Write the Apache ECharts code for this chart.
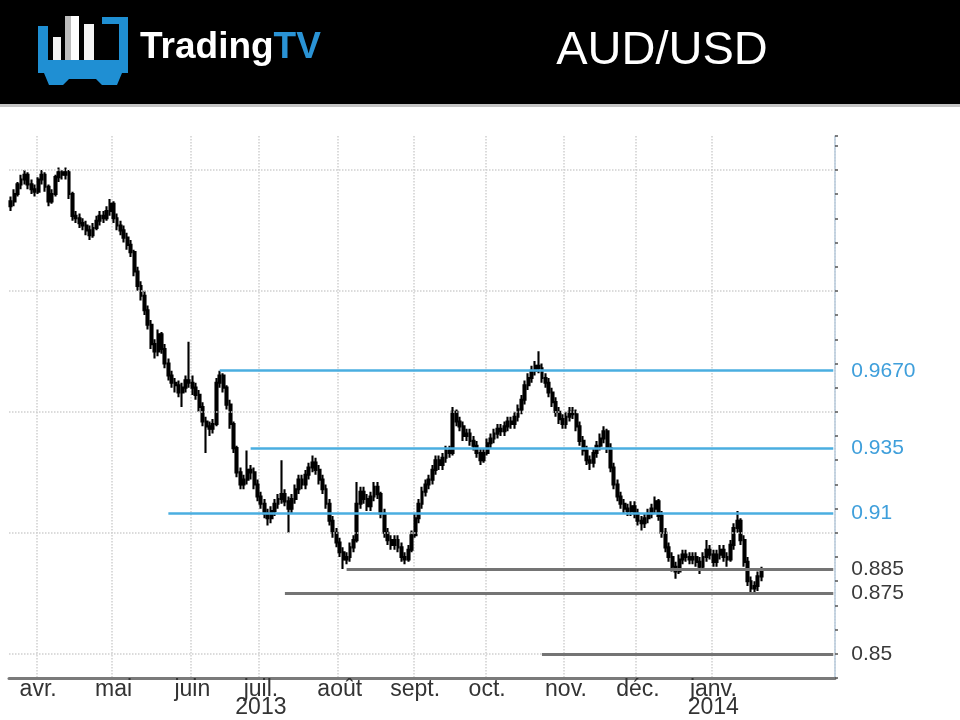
<!DOCTYPE html>
<html><head><meta charset="utf-8">
<script src="https://cdn.jsdelivr.net/npm/echarts@6/dist/echarts.min.js"></script>
<style>html,body{margin:0;padding:0;background:#fff}#c{width:960px;height:720px}</style>
</head><body><div id="c"></div>
<script>
// calendar range of the category axis (trading days)
const startDate = '2013-03-20';
const endDate = '2014-02-19';
// month ticks
const tickMonths = ['2013-04','2013-05','2013-06','2013-07','2013-08','2013-09','2013-10','2013-11','2013-12','2014-01'];
const tickLabels = ['avr.','mai','juin','juil.\n2013','août','sept.','oct.','nov.','déc.','janv.\n2014'];
// horizontal dotted grid levels
const gridValues = [0.85, 0.90, 0.95, 1.00, 1.05];
// annotated levels
const levelValues = [0.967, 0.935, 0.908, 0.885, 0.875, 0.85];
const levelLabels = ['0.9670', '0.935', '0.91', '0.885', '0.875', '0.85'];
const levelStarts = ['2013-06-13', '2013-06-26', '2013-05-23', '2013-08-05', '2013-07-10', '2013-10-23'];
const levelKinds = ['blue', 'blue', 'blue', 'gray', 'gray', 'gray'];

// daily candles: [open, close, low, high]
const candlesMar13 = [
[1.035,1.037,1.033,1.039],[1.037,1.040,1.035,1.042],[1.040,1.044,1.039,1.045],[1.044,1.046,1.042,1.048],
[1.046,1.048,1.044,1.050],[1.048,1.044,1.042,1.049],[1.044,1.042,1.040,1.046],[1.042,1.041,1.039,1.044]];
const candlesApr13 = [
[1.041,1.046,1.040,1.047],[1.046,1.048,1.044,1.050],[1.048,1.043,1.041,1.049],[1.043,1.037,1.035,1.044],
[1.037,1.040,1.036,1.042],[1.040,1.047,1.039,1.048],[1.047,1.049,1.045,1.051],[1.049,1.048,1.046,1.050],
[1.048,1.049,1.046,1.051],[1.049,1.040,1.038,1.050],[1.040,1.031,1.029,1.041],[1.031,1.030,1.028,1.033],
[1.030,1.028,1.026,1.032],[1.028,1.027,1.025,1.030],[1.027,1.025,1.023,1.029],[1.025,1.023,1.021,1.027],
[1.023,1.026,1.022,1.028],[1.026,1.029,1.025,1.031],[1.029,1.031,1.027,1.033],[1.031,1.030,1.028,1.033],
[1.030,1.033,1.029,1.035],[1.033,1.036,1.031,1.038]];
const candlesMay13 = [
[1.036,1.030,1.028,1.037],[1.030,1.027,1.025,1.032],[1.027,1.025,1.023,1.029],[1.025,1.022,1.020,1.027],
[1.022,1.019,1.017,1.024],[1.019,1.016,1.014,1.021],[1.016,1.008,1.006,1.017],[1.008,1.002,1.000,1.010],
[1.002,0.998,0.996,1.004],[0.998,0.992,0.990,1.000],[0.992,0.986,0.984,0.994],[0.986,0.978,0.976,0.988],
[0.978,0.975,0.972,0.980],[0.975,0.982,0.973,0.984],[0.982,0.976,0.974,0.983],[0.976,0.970,0.968,0.978],
[0.970,0.965,0.963,0.972],[0.965,0.962,0.960,0.967],[0.962,0.961,0.958,0.964],[0.961,0.958,0.956,0.963],
[0.958,0.960,0.952,0.962],[0.960,0.963,0.958,0.965],[0.963,0.962,0.960,0.979]];
const candlesJun13 = [
[0.962,0.960,0.957,0.965],[0.960,0.957,0.955,0.962],[0.957,0.952,0.950,0.959],[0.952,0.946,0.944,0.954],
[0.946,0.944,0.933,0.948],[0.944,0.943,0.940,0.946],[0.943,0.945,0.941,0.947],[0.945,0.962,0.944,0.964],
[0.962,0.965,0.960,0.967],[0.965,0.960,0.958,0.966],[0.960,0.953,0.951,0.961],[0.953,0.945,0.943,0.955],
[0.945,0.935,0.933,0.946],[0.935,0.925,0.923,0.936],[0.925,0.920,0.918,0.927],[0.920,0.922,0.918,0.924],
[0.922,0.926,0.920,0.934],[0.926,0.925,0.922,0.928],[0.925,0.920,0.918,0.927],[0.920,0.915,0.913,0.922]];
const candlesJul13 = [
[0.915,0.912,0.910,0.917],[0.912,0.908,0.906,0.914],[0.908,0.906,0.903,0.910],[0.906,0.909,0.904,0.911],
[0.909,0.912,0.907,0.914],[0.912,0.914,0.910,0.916],[0.914,0.916,0.912,0.930],[0.916,0.913,0.911,0.918],
[0.913,0.910,0.900,0.915],[0.910,0.914,0.908,0.916],[0.914,0.918,0.912,0.920],[0.918,0.922,0.916,0.924],
[0.922,0.920,0.918,0.924],[0.920,0.924,0.918,0.926],[0.924,0.927,0.922,0.929],[0.927,0.929,0.925,0.932],
[0.929,0.926,0.924,0.931],[0.926,0.922,0.920,0.928],[0.922,0.918,0.916,0.924],[0.918,0.912,0.910,0.920],
[0.912,0.905,0.903,0.914],[0.905,0.900,0.898,0.907],[0.900,0.896,0.894,0.902]];
const candlesAug13 = [
[0.896,0.892,0.890,0.898],[0.892,0.889,0.885,0.894],[0.889,0.890,0.887,0.892],[0.890,0.894,0.888,0.896],
[0.894,0.897,0.892,0.899],[0.897,0.912,0.896,0.921],[0.912,0.917,0.910,0.919],[0.917,0.914,0.912,0.919],
[0.914,0.911,0.909,0.916],[0.911,0.915,0.909,0.917],[0.915,0.919,0.913,0.921],[0.919,0.916,0.914,0.921],
[0.916,0.908,0.906,0.917],[0.908,0.900,0.898,0.910],[0.900,0.897,0.895,0.902],[0.897,0.895,0.893,0.899],
[0.895,0.897,0.893,0.899],[0.897,0.894,0.892,0.899],[0.894,0.890,0.888,0.896],[0.890,0.889,0.887,0.892],
[0.889,0.893,0.888,0.895],[0.893,0.899,0.892,0.901]];
const candlesSep13 = [
[0.899,0.906,0.898,0.908],[0.906,0.912,0.904,0.914],[0.912,0.917,0.910,0.919],[0.917,0.920,0.915,0.922],
[0.920,0.922,0.918,0.924],[0.922,0.926,0.920,0.928],[0.926,0.930,0.924,0.932],[0.930,0.928,0.926,0.932],
[0.928,0.931,0.926,0.933],[0.931,0.934,0.929,0.936],[0.934,0.933,0.931,0.936],[0.933,0.950,0.932,0.952],
[0.950,0.946,0.944,0.951],[0.946,0.944,0.942,0.948],[0.944,0.940,0.938,0.946],[0.940,0.941,0.938,0.943],
[0.941,0.938,0.936,0.943],[0.938,0.936,0.934,0.940],[0.936,0.933,0.931,0.938],[0.933,0.930,0.928,0.935],
[0.930,0.933,0.929,0.935]];
const candlesOct13 = [
[0.933,0.937,0.932,0.939],[0.937,0.939,0.935,0.941],[0.939,0.941,0.937,0.943],[0.941,0.943,0.939,0.945],
[0.943,0.942,0.940,0.945],[0.942,0.944,0.940,0.946],[0.944,0.946,0.942,0.948],[0.946,0.945,0.943,0.948],
[0.945,0.948,0.943,0.950],[0.948,0.951,0.946,0.953],[0.951,0.955,0.949,0.957],[0.955,0.961,0.953,0.963],
[0.961,0.964,0.959,0.966],[0.964,0.967,0.962,0.969],[0.967,0.969,0.965,0.971],[0.969,0.968,0.966,0.975],
[0.968,0.964,0.962,0.970],[0.964,0.962,0.960,0.966],[0.962,0.958,0.956,0.964],[0.958,0.954,0.952,0.960],
[0.954,0.950,0.948,0.956],[0.950,0.947,0.945,0.952],[0.947,0.945,0.943,0.949]];
const candlesNov13 = [
[0.945,0.948,0.943,0.950],[0.948,0.950,0.946,0.952],[0.950,0.949,0.947,0.952],[0.949,0.944,0.942,0.951],
[0.944,0.938,0.936,0.946],[0.938,0.934,0.932,0.940],[0.934,0.930,0.928,0.936],[0.930,0.929,0.926,0.932],
[0.929,0.933,0.927,0.935],[0.933,0.936,0.931,0.938],[0.936,0.939,0.934,0.941],[0.939,0.942,0.937,0.944],
[0.942,0.935,0.933,0.943],[0.935,0.927,0.925,0.937],[0.927,0.920,0.918,0.929],[0.920,0.915,0.913,0.922],
[0.915,0.912,0.910,0.917],[0.912,0.910,0.908,0.914],[0.910,0.909,0.907,0.912],[0.909,0.911,0.907,0.913],
[0.911,0.908,0.906,0.913]];
const candlesDec13 = [
[0.908,0.905,0.903,0.910],[0.905,0.904,0.901,0.907],[0.904,0.906,0.902,0.908],[0.906,0.908,0.904,0.910],
[0.908,0.910,0.906,0.912],[0.910,0.913,0.908,0.915],[0.913,0.907,0.905,0.914],[0.907,0.900,0.898,0.909],
[0.900,0.894,0.892,0.902],[0.894,0.890,0.888,0.896],[0.890,0.886,0.884,0.892],[0.886,0.884,0.881,0.888],
[0.884,0.889,0.883,0.891],[0.889,0.891,0.887,0.893],[0.891,0.890,0.888,0.893],[0.890,0.889,0.887,0.892],
[0.889,0.890,0.887,0.892],[0.890,0.888,0.886,0.892],[0.888,0.886,0.883,0.890],[0.886,0.890,0.885,0.892],
[0.890,0.893,0.888,0.897],[0.893,0.891,0.889,0.895]];
const candlesJan14 = [
[0.891,0.888,0.886,0.893],[0.888,0.891,0.886,0.893],[0.891,0.893,0.889,0.895],[0.893,0.890,0.888,0.895],
[0.890,0.889,0.886,0.892],[0.889,0.895,0.888,0.897],[0.895,0.902,0.893,0.904],[0.902,0.905,0.900,0.909],
[0.905,0.897,0.895,0.906],[0.897,0.888,0.886,0.899],[0.888,0.880,0.878,0.890],[0.880,0.877,0.875,0.882],
[0.877,0.878,0.875,0.880],[0.878,0.882,0.876,0.884],[0.882,0.884,0.880,0.886]];

const candles = [].concat(candlesMar13, candlesApr13, candlesMay13, candlesJun13, candlesJul13,
  candlesAug13, candlesSep13, candlesOct13, candlesNov13, candlesDec13, candlesJan14);

function tradingDays(a, b) {
  const out = [];
  let d = new Date(a + 'T00:00:00Z');
  const e = new Date(b + 'T00:00:00Z');
  while (d <= e) {
    const w = d.getUTCDay();
    if (w !== 0 && w !== 6) out.push(d.toISOString().slice(0, 10));
    d = new Date(d.getTime() + 86400000);
  }
  return out;
}
const days = tradingDays(startDate, endDate);
const monthStart = new Set();
tickMonths.forEach(m => { const i = days.findIndex(d => d.slice(0, 7) === m); if (i >= 0) monthStart.add(i); });
const isMonthStart = (i) => monthStart.has(i);

const BLUE = '#4aaee0', BLUE_TXT = '#3f9fdb', GRAY = '#747474', GRAY_TXT = '#3a3a3a';
const levelLines = levelValues.map((v, k) => {
  const blue = levelKinds[k] === 'blue';
  return [
    { coord: [levelStarts[k], v],
      lineStyle: { color: blue ? BLUE : GRAY, width: blue ? 2.5 : 3, type: 'solid' },
      label: { show: true, position: 'end', distance: 18, formatter: levelLabels[k],
               color: blue ? BLUE_TXT : GRAY_TXT, fontSize: 21, fontFamily: 'Liberation Sans' } },
    { coord: [endDate, v] }
  ];
});
const gridLines = gridValues.map(v => ({ yAxis: v }));

const chart = echarts.init(document.getElementById('c'), null, { renderer: 'canvas' });
chart.setOption({
  backgroundColor: '#ffffff',
  animation: false,
  grid: { left: 9, right: 125, top: 136, bottom: 42, containLabel: false, outerBoundsMode: 'none' },
  xAxis: {
    type: 'category', data: days, boundaryGap: true,
    axisLine: { show: true, lineStyle: { color: '#7a7a7a', width: 3 } },
    axisTick: { show: false },
    axisLabel: {
      interval: (i) => isMonthStart(i), margin: 3,
      formatter: (val) => { const k = tickMonths.indexOf(val.slice(0, 7)); return k >= 0 ? tickLabels[k] : ''; },
      color: '#333', fontSize: 23, lineHeight: 18, fontFamily: 'Liberation Sans'
    },
    splitLine: { show: true, interval: (i) => isMonthStart(i), lineStyle: { color: '#cfcfcf', type: 'dotted', width: 1.5 } }
  },
  yAxis: {
    type: 'value', position: 'right', min: 0.84, max: 1.064, interval: 0.01, scale: true,
    axisLine: { show: true, lineStyle: { color: '#b9cbdc', width: 1.5 } },
    axisTick: { show: true, length: 3, inside: false, lineStyle: { color: '#555', width: 1.5 } },
    axisLabel: { show: false },
    splitLine: { show: false }
  },
  graphic: [
    { type: 'rect', shape: { x: 0, y: 0, width: 960, height: 104 }, style: { fill: '#000' } },
    { type: 'rect', shape: { x: 0, y: 104, width: 960, height: 3 }, style: { fill: '#c4c4c4' } },
    // logo
    { type: 'rect', shape: { x: 38, y: 26, width: 10, height: 40 }, style: { fill: '#1f8fd3' } },
    { type: 'rect', shape: { x: 38, y: 60, width: 90, height: 13 }, style: { fill: '#1f8fd3' } },
    { type: 'rect', shape: { x: 119, y: 17, width: 9, height: 50 }, style: { fill: '#1f8fd3' } },
    { type: 'rect', shape: { x: 102, y: 17, width: 26, height: 7 }, style: { fill: '#1f8fd3' } },
    { type: 'rect', shape: { x: 53, y: 37, width: 8, height: 23 }, style: { fill: '#f2f2f2' } },
    { type: 'rect', shape: { x: 65, y: 16, width: 6, height: 44 }, style: { fill: '#bdbdbd' } },
    { type: 'rect', shape: { x: 71, y: 16, width: 8, height: 44 }, style: { fill: '#ffffff' } },
    { type: 'rect', shape: { x: 84, y: 24, width: 10, height: 36 }, style: { fill: '#f4f4f4' } },
    { type: 'polygon', shape: { points: [[44,73],[122,73],[117,85],[102,85],[96,79],[69,79],[63,85],[49,85]] }, style: { fill: '#1f8fd3' } },
    { type: 'text', style: { x: 140, y: 48, text: '{a|Trading}{b|TV}', verticalAlign: 'middle',
        rich: { a: { fontSize: 37, fontWeight: 'bold', fontFamily: 'Liberation Sans', fill: '#ffffff', color: '#ffffff' },
                b: { fontSize: 37, fontWeight: 'bold', fontFamily: 'Liberation Sans', fill: '#2a93d5', color: '#2a93d5' } } } },
    { type: 'text', style: { x: 662, y: 51, text: 'AUD/USD', fill: '#ffffff', fontSize: 47, fontFamily: 'Liberation Sans',
        textAlign: 'center', align: 'center', verticalAlign: 'middle' } }
  ],
  series: [
    {
      type: 'line', data: [], z: 1, silent: true,
      markLine: { silent: true, symbol: ['none', 'none'], animation: false,
        label: { show: false },
        lineStyle: { color: '#cfcfcf', type: 'dotted', width: 1.5 },
        data: gridLines }
    },
    {
      type: 'candlestick', data: candles, barWidth: 2.4, z: 3,
      itemStyle: { color: '#a8a8a8', color0: '#000000', borderColor: '#000000', borderColor0: '#000000', borderWidth: 2.1 },
      markLine: { silent: true, symbol: ['none', 'none'], animation: false, data: levelLines }
    }
  ]
});
</script></body></html>
